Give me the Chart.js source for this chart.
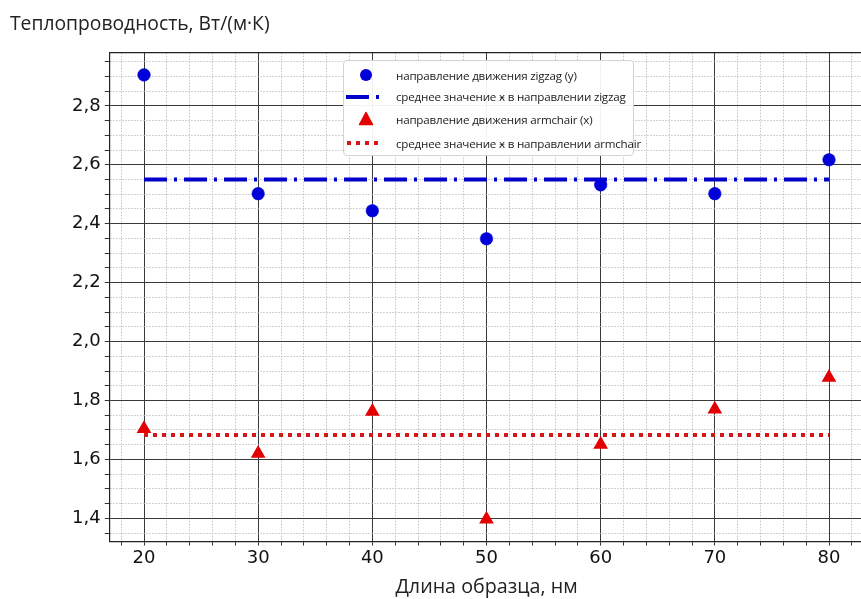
<!DOCTYPE html>
<html>
<head>
<meta charset="utf-8">
<script src="https://cdn.jsdelivr.net/npm/chart.js@4/dist/chart.umd.min.js"></script>
<style>
  html, body { margin: 0; padding: 0; background: #fff; overflow: hidden; }
  #wrap { position: relative; width: 880px; height: 599px; }
  #ytitle { position: absolute; left: 10px; top: 9px; font: 19.3px "Open Sans"; color: #222; white-space: nowrap; }
  #legend { position: absolute; left: 343px; top: 60px; width: 289px; height: 94px; background: rgba(255,255,255,0.93);
    border: 1px solid #d4d4d4; border-radius: 4px; font: 11.6px "Open Sans"; letter-spacing: -0.2px; color: #222; }
  .row { position: absolute; left: 2px; height: 20px; display: flex; align-items: center; white-space: nowrap; }
  .row svg { width: 40px; height: 20px; margin-right: 10px; }
</style>
</head>
<body>
<div id="wrap">
  <canvas id="chart" width="880" height="599"></canvas>
  <div id="ytitle">Теплопроводность, Вт/(м·К)</div>
  <div id="legend"></div>
</div>
<script>
// sample length, nm
const lengths = [20, 30, 40, 50, 60, 70, 80]
// thermal conductivity along zigzag (y) and armchair (x)
const zigzag = [2.905, 2.502, 2.444, 2.349, 2.532, 2.502, 2.617]
const armchair = [1.704, 1.620, 1.763, 1.397, 1.651, 1.770, 1.878]
// mean lines
const meanX = [20, 80]
const zigzagMean = [2.55, 2.55]
const armchairMean = [1.683, 1.683]
// labelled ticks and the dotted minor grid steps
const xTicks = [20, 30, 40, 50, 60, 70, 80]
const yTicks = [1.4, 1.6, 1.8, 2.0, 2.2, 2.4, 2.6, 2.8]
const xMinorStep = 2
const yMinorStep = 0.05
const seriesLabels = [
  'направление движения zigzag (y)',
  'среднее значение ӿ в направлении zigzag',
  'направление движения armchair (x)',
  'среднее значение ӿ в направлении armchair',
]

const blue = '#0000d8'
const red = '#e40000'
const redLine = '#d41818'

const toPoints = (xs, ys) => xs.map((x, i) => ({ x, y: ys[i] }))
const isMajor = (list, v) => list.some((t) => Math.abs(t - v) < 1e-6)

const gridColor = (list) => (ctx) => (ctx.tick && isMajor(list, ctx.tick.value) ? '#3a3a3a' : '#c4c4c4')
const gridDash = (list) => (ctx) => (ctx.tick && !isMajor(list, ctx.tick.value) ? [1.5, 1.5] : [])

// ticks on every minor step inside the scale range
const minorTicks = (step) => (scale) => {
  const ticks = []
  const first = Math.ceil(scale.min / step - 1e-9)
  const last = Math.floor(scale.max / step + 1e-9)
  for (let k = first; k <= last; k++) ticks.push({ value: Math.round(k * step * 1000) / 1000 })
  scale.ticks = ticks
}

const tickFont = { family: 'DejaVu Sans', size: 18 }

const chart = new Chart(document.getElementById('chart'), {
  type: 'scatter',
  data: {
    datasets: [
      {
        label: seriesLabels[0],
        data: toPoints(lengths, zigzag),
        pointStyle: 'circle',
        pointRadius: 6.3,
        pointBackgroundColor: blue,
        pointBorderColor: blue,
        pointBorderWidth: 0.5,
      },
      {
        type: 'line',
        label: seriesLabels[1],
        data: toPoints(meanX, zigzagMean),
        borderColor: '#0000c8',
        borderWidth: 4,
        borderDash: [23, 7, 3, 7],
        borderCapStyle: 'butt',
        pointRadius: 0,
        fill: false,
      },
      {
        label: seriesLabels[2],
        data: toPoints(lengths, armchair),
        pointStyle: 'triangle',
        pointRadius: 7,
        pointBackgroundColor: red,
        pointBorderColor: red,
        pointBorderWidth: 1.5,
      },
      {
        type: 'line',
        label: seriesLabels[3],
        data: toPoints(meanX, armchairMean),
        borderColor: redLine,
        borderWidth: 4,
        borderDash: [4, 5],
        borderCapStyle: 'butt',
        pointRadius: 0,
        fill: false,
      },
    ],
  },
  options: {
    responsive: false,
    animation: false,
    layout: { padding: { top: 52.7, right: 16.75, left: 0, bottom: 0 } },
    plugins: { legend: { display: false }, tooltip: { enabled: false } },
    scales: {
      x: {
        type: 'linear',
        position: 'bottom',
        min: 17,
        max: 83,
        afterFit: (s) => { s.height = 57.5 },
        afterBuildTicks: minorTicks(xMinorStep),
        ticks: {
          autoSkip: false,
          maxRotation: 0,
          padding: 2,
          color: '#111',
          font: tickFont,
          callback: (v) => (isMajor(xTicks, v) ? String(Math.round(v)) : ''),
        },
        grid: { color: gridColor(xTicks), tickColor: '#333', tickLength: 4, lineWidth: 1 },
        border: { color: '#222', width: 1.2, dash: gridDash(xTicks) },
        title: {
          display: true,
          text: 'Длина образца, нм',
          color: '#222',
          font: { family: 'Open Sans', size: 19.7 },
          padding: { top: 0, bottom: 0 },
        },
      },
      xTop: {
        type: 'linear',
        position: 'top',
        min: 17,
        max: 83,
        afterFit: (s) => { s.height = 0 },
        ticks: { display: false },
        grid: { display: true, drawOnChartArea: false, drawTicks: false },
        border: { color: '#222', width: 1.2 },
      },
      y: {
        type: 'linear',
        min: 1.3216,
        max: 2.9804,
        afterFit: (s) => { s.width = 109.75 },
        afterBuildTicks: minorTicks(yMinorStep),
        ticks: {
          autoSkip: false,
          padding: 4,
          color: '#111',
          font: tickFont,
          callback: (v) => (isMajor(yTicks, v) ? v.toFixed(1).replace('.', ',') : ''),
        },
        grid: { color: gridColor(yTicks), tickColor: '#333', tickLength: 5, lineWidth: 1 },
        border: { color: '#222', width: 1.2, dash: gridDash(yTicks) },
      },
    },
  },
})

// legend inside the plot, built from the datasets
const symbols = [
  (c) => `<circle cx="20" cy="10" r="6" fill="${c}"/>`,
  (c) => `<line x1="0" y1="10" x2="33" y2="10" stroke="${c}" stroke-width="4" stroke-dasharray="23 7 3 10"/>`,
  (c) => `<polygon points="20,3.5 26.5,15.5 13.5,15.5" fill="${c}" stroke="${c}" stroke-width="1.5" stroke-linejoin="round"/>`,
  (c) => `<line x1="1" y1="10" x2="32" y2="10" stroke="${c}" stroke-width="4" stroke-dasharray="4 5"/>`,
]
const rowCenters = [75, 96.5, 119, 143]
const legendEl = document.getElementById('legend')
chart.data.datasets.forEach((ds, i) => {
  const color = ds.type === 'line' ? ds.borderColor : ds.pointBackgroundColor
  const row = document.createElement('div')
  row.className = 'row'
  row.style.top = `${rowCenters[i] - 60 - 11}px`
  row.innerHTML = `<svg viewBox="0 0 40 20">${symbols[i](color)}</svg><span>${ds.label}</span>`
  legendEl.appendChild(row)
})
</script>
</body>
</html>
